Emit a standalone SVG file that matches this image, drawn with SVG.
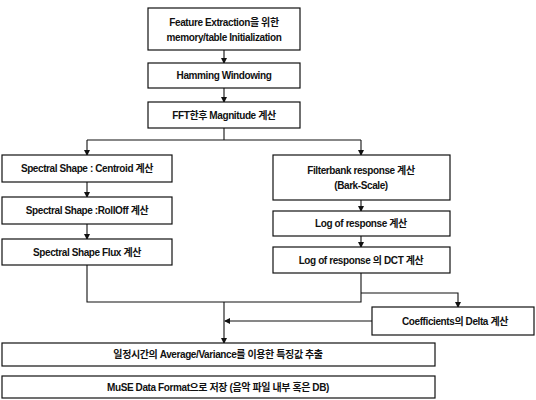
<svg xmlns="http://www.w3.org/2000/svg" width="536" height="400" viewBox="0 0 536 400">
<style>
.box{fill:#fff;stroke:#111;stroke-width:1.2}
.t{font-family:"Liberation Sans","Noto Sans CJK KR",sans-serif;font-size:10px;font-weight:bold;fill:#111;text-anchor:middle;letter-spacing:-0.4px}
.c{fill:none;stroke:#111;stroke-width:1.1}
</style>
<defs>
<marker id="ah" markerWidth="6" markerHeight="6" refX="5" refY="3" orient="auto" markerUnits="userSpaceOnUse">
<path d="M0,0 L6,3 L0,6 z" fill="#111"/>
</marker>
</defs>
<rect width="536" height="400" fill="#fff"/>
<g id="connectors">
<line class="c" x1="224" y1="50" x2="224" y2="63" marker-end="url(#ah)"/>
<line class="c" x1="224" y1="88" x2="224" y2="102" marker-end="url(#ah)"/>
<polyline class="c" points="224,128 224,140"/>
<polyline class="c" points="87,140 361,140"/>
<line class="c" x1="87" y1="140" x2="87" y2="155" marker-end="url(#ah)"/>
<line class="c" x1="361" y1="140" x2="361" y2="155" marker-end="url(#ah)"/>
<line class="c" x1="87" y1="182" x2="87" y2="197" marker-end="url(#ah)"/>
<line class="c" x1="87" y1="224" x2="87" y2="239" marker-end="url(#ah)"/>
<line class="c" x1="361" y1="200" x2="361" y2="211" marker-end="url(#ah)"/>
<line class="c" x1="361" y1="236" x2="361" y2="247" marker-end="url(#ah)"/>
<polyline class="c" points="87,265 87,302 361,302 361,273"/>
<polyline class="c" points="361,293 458,293 458,307" marker-end="url(#ah)"/>
<line class="c" x1="224" y1="302" x2="224" y2="343" marker-end="url(#ah)"/>
<line class="c" x1="372" y1="321" x2="225" y2="321" marker-end="url(#ah)"/>
</g>
<g id="n1"><rect class="box" x="148" y="8" width="152" height="42"/>
<text class="t" x="224" y="26">Feature Extraction을 위한</text>
<text class="t" x="224" y="41">memory/table Initialization</text></g>
<g id="n2"><rect class="box" x="148" y="63" width="152" height="25"/>
<text class="t" x="224" y="79">Hamming Windowing</text></g>
<g id="n3"><rect class="box" x="148" y="102" width="152" height="26"/>
<text class="t" x="224" y="119">FFT한후 Magnitude 계산</text></g>
<g id="n4"><rect class="box" x="2" y="155" width="170" height="27"/>
<text class="t" x="87" y="172">Spectral Shape : Centroid 계산</text></g>
<g id="n5"><rect class="box" x="2" y="197" width="170" height="27"/>
<text class="t" x="87" y="214">Spectral Shape :RollOff 계산</text></g>
<g id="n6"><rect class="box" x="2" y="239" width="170" height="26"/>
<text class="t" x="87" y="256">Spectral Shape Flux 계산</text></g>
<g id="n7"><rect class="box" x="273" y="155" width="177" height="45"/>
<text class="t" x="361" y="174">Filterbank response 계산</text>
<text class="t" x="361" y="189">(Bark-Scale)</text></g>
<g id="n8"><rect class="box" x="273" y="211" width="177" height="25"/>
<text class="t" x="361" y="227">Log of response 계산</text></g>
<g id="n9"><rect class="box" x="273" y="247" width="177" height="26"/>
<text class="t" x="361" y="264">Log of response 의 DCT 계산</text></g>
<g id="n10"><rect class="box" x="372" y="307" width="162" height="28"/>
<text class="t" x="455" y="325">Coefficients의 Delta 계산</text></g>
<g id="n11"><rect class="box" x="2" y="343" width="433" height="23"/>
<text class="t" x="218" y="358">일정시간의 Average/Variance를 이용한 특징값 추출</text></g>
<g id="n12"><rect class="box" x="2" y="376" width="433" height="22"/>
<text class="t" x="218" y="391">MuSE Data Format으로 저장 (음악 파일 내부 혹은 DB)</text></g>
</svg>
